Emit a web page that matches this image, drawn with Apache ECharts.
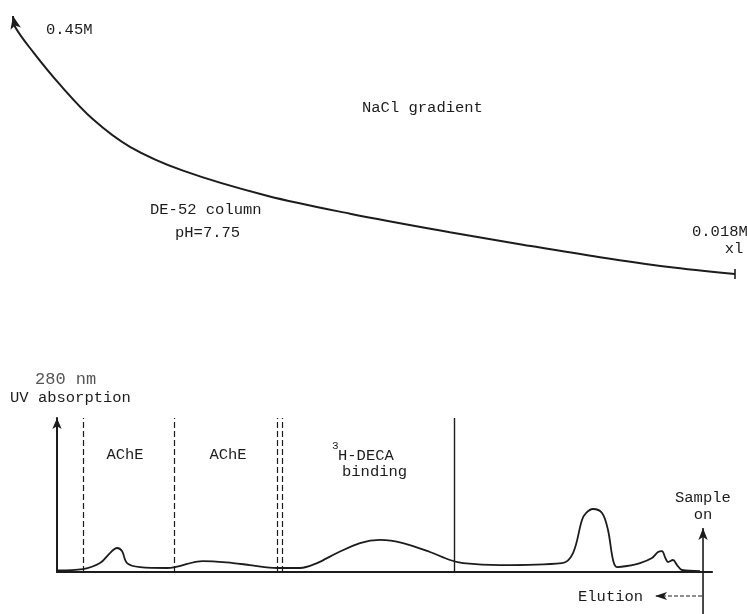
<!DOCTYPE html>
<html>
<head>
<meta charset="utf-8">
<script src="https://cdn.jsdelivr.net/npm/echarts@6/dist/echarts.min.js"></script>
<style>html,body{margin:0;padding:0;background:#fff;}#c{width:747px;height:614px;}</style>
</head>
<body>
<div id="c"></div>
<script>
// NaCl gradient (top panel): relative elution position vs. NaCl concentration (M)
var gradientPos  = [0, 0.28, 2.77, 6.51, 11.08, 16.2, 23.55, 35.18, 46.68, 60.5, 70.2, 81.3, 90.58, 100];
var gradientNaCl = [0.45, 0.432, 0.390, 0.335, 0.277, 0.231, 0.191, 0.149, 0.119, 0.088, 0.068, 0.046, 0.030, 0.018];

// UV absorption trace at 280 nm (bottom panel)
var tracePos = [0, 3.97, 6.56, 8.09, 9.16, 9.92, 10.69, 12.67, 16.79, 18.02, 22.29, 26.87, 29.47, 33.59,
  37.10, 39.69, 42.75, 46.26, 49.31, 52.82, 56.95, 60.0, 61.98, 67.63, 77.10, 78.78, 80.15, 80.76,
  81.83, 83.21, 84.12, 84.89, 85.50, 87.02, 89.01, 90.84, 91.76, 92.37, 92.82, 93.28, 94.05, 94.66,
  95.42, 98.17];
var traceAbs = [0.010, 0.019, 0.058, 0.123, 0.156, 0.136, 0.058, 0.032, 0.026, 0.032, 0.071, 0.058, 0.045, 0.026,
  0.026, 0.058, 0.123, 0.188, 0.208, 0.188, 0.130, 0.078, 0.058, 0.045, 0.058, 0.123, 0.338, 0.383,
  0.409, 0.383, 0.273, 0.078, 0.032, 0.039, 0.058, 0.091, 0.130, 0.136, 0.097, 0.065, 0.078, 0.045,
  0.013, 0.006];

// fraction boundaries (positions on the elution axis)
var dashedBounds = [3.97, 17.86, 33.59, 34.35];
var solidBounds = [60.61];

// sample-on / elution markers
var samplePos = 98.63;
var sampleArrowY = [-0.273, 0.286];
var elutionX = [98.47, 91.3];
var elutionY = -0.156;

var ink = '#1c1c1c';
var font = '"Liberation Mono", "DejaVu Sans Mono", monospace';

var gradData = gradientPos.map(function (x, i) { return [x, gradientNaCl[i]]; });
gradData[0] = { value: gradData[0], symbol: 'arrow', symbolSize: [8, 13], symbolRotate: 12 };
gradData[gradData.length - 1] = { value: gradData[gradData.length - 1], symbol: 'rect', symbolSize: [1.6, 10] };

var traceData = tracePos.map(function (x, i) { return [x, traceAbs[i]]; });

var markData = [];
dashedBounds.forEach(function (x) { markData.push({ xAxis: x, lineStyle: { type: [6, 3], width: 1.2, color: ink } }); });
solidBounds.forEach(function (x) { markData.push({ xAxis: x, lineStyle: { type: 'solid', width: 1.4, color: ink } }); });

function txt(s, x, y, opt) {
  opt = opt || {};
  return {
    type: 'text', x: x, y: y, silent: true,
    style: {
      text: s, fill: opt.fill || ink,
      font: (opt.size || 15.5) + 'px ' + font,
      align: opt.align || 'left', verticalAlign: 'middle'
    }
  };
}

var chart = echarts.init(document.getElementById('c'), null, { renderer: 'canvas' });
chart.setOption({
  backgroundColor: '#fff',
  animation: false,
  grid: [
    { left: 13, right: 12, top: 16, bottom: 340 },
    { left: 57, right: 35, top: 418, bottom: 42 }
  ],
  xAxis: [
    { gridIndex: 0, type: 'value', min: 0, max: 100, show: false },
    { gridIndex: 1, type: 'value', min: 0, max: 100,
      axisLine: { show: true, onZero: false, lineStyle: { color: ink, width: 2.2 } },
      axisTick: { show: false }, axisLabel: { show: false }, splitLine: { show: false } }
  ],
  yAxis: [
    { gridIndex: 0, type: 'value', min: 0.018, max: 0.45, show: false },
    { gridIndex: 1, type: 'value', min: 0, max: 1,
      axisLine: { show: true, lineStyle: { color: ink, width: 2 }, symbol: ['none', 'arrow'], symbolSize: [7, 11] },
      axisTick: { show: false }, axisLabel: { show: false }, splitLine: { show: false } }
  ],
  series: [
    { type: 'line', xAxisIndex: 0, yAxisIndex: 0, data: gradData, smooth: 0.35,
      symbol: 'none', showSymbol: true, clip: false,
      itemStyle: { color: ink }, lineStyle: { color: ink, width: 2 } },
    { type: 'line', xAxisIndex: 1, yAxisIndex: 1, data: traceData, smooth: 0.35,
      symbol: 'none', clip: false, lineStyle: { color: ink, width: 1.8 },
      markLine: { silent: true, symbol: 'none', label: { show: false }, data: markData } },
    { type: 'line', xAxisIndex: 1, yAxisIndex: 1, clip: false, symbol: 'none', showSymbol: true,
      data: [[samplePos, sampleArrowY[0]], { value: [samplePos, sampleArrowY[1]], symbol: 'arrow', symbolSize: [7, 12] }],
      itemStyle: { color: ink }, lineStyle: { color: ink, width: 1.6 } },
    { type: 'line', xAxisIndex: 1, yAxisIndex: 1, clip: false, symbol: 'none', showSymbol: true,
      data: [[elutionX[0], elutionY], { value: [elutionX[1], elutionY], symbol: 'arrow', symbolSize: [6, 12], symbolRotate: 90 }],
      itemStyle: { color: ink }, lineStyle: { color: ink, width: 1.2, type: [4, 2] } }
  ],
  graphic: [
    txt('0.45M', 46, 30),
    txt('NaCl gradient', 362, 108),
    txt('DE-52 column', 150, 210),
    txt('pH=7.75', 175, 233),
    txt('0.018M', 692, 232),
    txt('xl', 734, 249, { align: 'center' }),
    txt('280 nm', 35, 379, { size: 17, fill: '#555' }),
    txt('UV absorption', 10, 398),
    txt('AChE', 125, 455, { align: 'center' }),
    txt('AChE', 228, 455, { align: 'center' }),
    txt('3', 332, 446, { size: 11 }),
    txt('H-DECA', 338, 456),
    txt('binding', 342, 472),
    txt('Sample', 675, 498),
    txt('on', 703, 515, { align: 'center' }),
    txt('Elution', 578, 597)
  ]
});
</script>
</body>
</html>
